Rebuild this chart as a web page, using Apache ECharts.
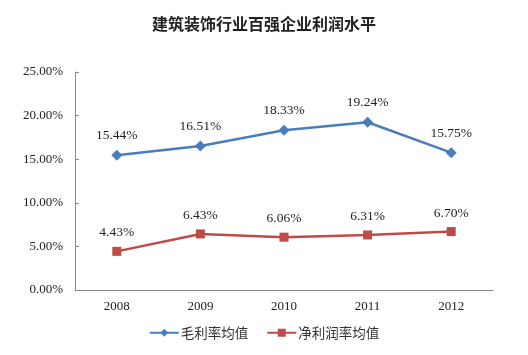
<!DOCTYPE html>
<html><head><meta charset="utf-8">
<script src="https://cdn.jsdelivr.net/npm/echarts@6/dist/echarts.min.js"></script>
<style>html,body{margin:0;padding:0;background:#fff}#c{width:528px;height:355px}</style>
</head><body><div id="c"></div>
<script>
const categories = ['2008', '2009', '2010', '2011', '2012'];
const grossMargin = [15.44, 16.51, 18.33, 19.24, 15.75];
const netMargin = [4.43, 6.43, 6.06, 6.31, 6.70];
const seriesNames = ['毛利率均值', '净利润率均值'];
const yTicks = { min: 0, max: 25, interval: 5 };

const chart = echarts.init(document.getElementById('c'));
const serif = '"Liberation Serif","Times New Roman",serif';
const lbl = {
  show: true, position: 'top', distance: 7,
  fontFamily: serif, fontSize: 13.5, color: '#222',
  formatter: p => p.value.toFixed(2) + '%'
};
chart.setOption({
  animation: false,
  title: {
    text: '建筑装饰行业百强企业利润水平', left: 'center', top: 11,
    textStyle: { fontFamily: '"Noto Sans CJK SC"', fontSize: 16, fontWeight: 'bold', color: '#222' }
  },
  legend: {
    left: 'center', top: 326, padding: 0, itemGap: 18, itemWidth: 29, itemHeight: 10,
    textStyle: { fontFamily: '"Noto Sans CJK SC"', fontSize: 13.5, color: '#333', padding: [0, 0, 0, -3] },
    data: seriesNames
  },
  grid: { left: 75, right: 35, top: 72, bottom: 65 },
  xAxis: {
    type: 'category', data: categories, boundaryGap: true,
    axisLine: { lineStyle: { color: '#888' } },
    axisTick: { inside: true, length: 4, lineStyle: { color: '#888' } },
    axisLabel: { fontFamily: serif, fontSize: 13, color: '#222', margin: 10 }
  },
  yAxis: {
    type: 'value', min: yTicks.min, max: yTicks.max, interval: yTicks.interval,
    axisLine: { show: true, lineStyle: { color: '#888' } },
    axisTick: { show: true, inside: true, length: 4, lineStyle: { color: '#888' } },
    splitLine: { show: false },
    axisLabel: { fontFamily: serif, fontSize: 13, color: '#222', margin: 12, formatter: v => v.toFixed(2) + '%' }
  },
  series: [
    {
      name: seriesNames[0], type: 'line', data: grossMargin,
      symbol: 'diamond', symbolSize: 11,
      lineStyle: { color: '#4A7EBB', width: 2.5 },
      itemStyle: { color: '#4A7EBB' },
      label: lbl
    },
    {
      name: seriesNames[1], type: 'line', data: netMargin,
      symbol: 'rect', symbolSize: 9,
      lineStyle: { color: '#BE4B48', width: 2.5 },
      itemStyle: { color: '#BE4B48' },
      label: lbl
    }
  ]
});
</script></body></html>
